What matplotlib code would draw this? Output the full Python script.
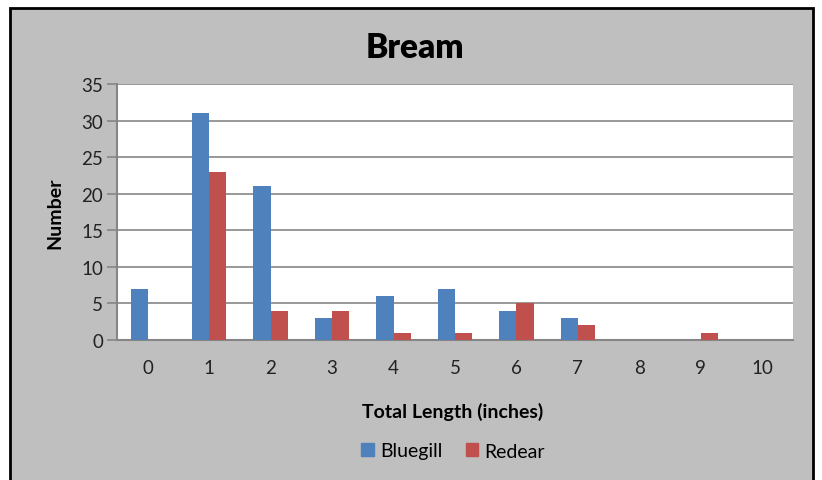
import matplotlib
matplotlib.use("Agg")
import matplotlib.pyplot as plt
from matplotlib.patches import Rectangle, Patch
import numpy as np

plt.rcParams['font.family'] = ['Lato', 'DejaVu Sans']

categories = ['0', '1', '2', '3', '4', '5', '6', '7', '8', '9', '10']
bluegill = [7, 31, 21, 3, 6, 7, 4, 3, 0, 0, 0]
redear = [0, 23, 4, 4, 1, 1, 5, 2, 0, 1, 0]
yticks = [0, 5, 10, 15, 20, 25, 30, 35]

W, H = 822, 481
fig = plt.figure(figsize=(W / 100, H / 100), dpi=100)
fig.patch.set_facecolor('white')
# gray chart area with black border
fig.patches.append(Rectangle((10 / W, -0.05), (813 - 10) / W, 1.05 - 9 / H,
                             transform=fig.transFigure, facecolor='#BFBFBF',
                             edgecolor='black', linewidth=2, zorder=-10))

ax = fig.add_axes([117 / W, 1 - 341 / H, (793 - 117) / W, (341 - 85) / H])
ax.set_zorder(5)
ax.set_facecolor('white')
x = np.arange(len(categories))
bw = 0.28
ax.bar(x - bw / 2, bluegill, bw, color='#4F81BD', label='Bluegill', zorder=3)
ax.bar(x + bw / 2, redear, bw, color='#C0504D', label='Redear', zorder=3)

ax.set_xlim(-0.5, len(categories) - 0.5)
ax.set_ylim(0, 35)
ax.set_yticks(yticks)
ax.set_yticklabels([str(v) for v in yticks])
ax.set_xticks(x)
ax.set_xticklabels(categories)
ax.grid(axis='y', color='#868686', linewidth=1.2, zorder=0)
ax.set_axisbelow(True)
ax.tick_params(axis='y', length=7, color='#868686', width=1.2, labelsize=13.5, pad=3, labelcolor='#222222')
ax.tick_params(axis='x', length=0, labelsize=13.5, pad=14, labelcolor='#222222')
for s in ['top', 'right']:
    ax.spines[s].set_visible(False)
for s in ['left', 'bottom']:
    ax.spines[s].set_color('#868686')
    ax.spines[s].set_linewidth(1.5)

fig.text(415 / W, 1 - 48 / H, 'Bream', ha='center', va='center', fontsize=24, fontweight='heavy')
fig.text(55 / W, 1 - 213 / H, 'Number', ha='center', va='center', rotation=90, fontsize=14, fontweight='bold')
fig.text(453 / W, 1 - 412 / H, 'Total Length (inches)', ha='center', va='center', fontsize=14, fontweight='bold')

handles = [Patch(color='#4F81BD', label='Bluegill'), Patch(color='#C0504D', label='Redear')]
fig.legend(handles=handles, loc='center', bbox_to_anchor=(453 / W, 1 - 452 / H), ncol=2,
           frameon=False, fontsize=14, handlelength=0.65, handleheight=0.65,
           handletextpad=0.3, columnspacing=1.2)

fig.savefig('out.png', dpi=100, facecolor=fig.get_facecolor())
